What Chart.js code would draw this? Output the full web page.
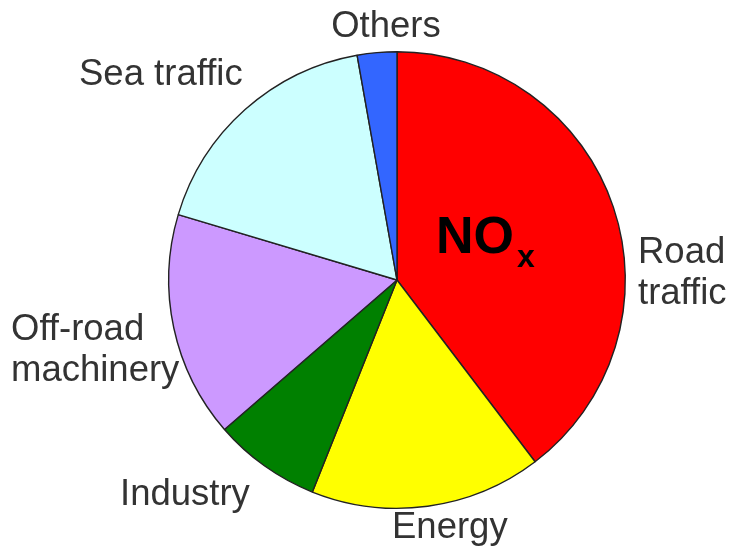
<!DOCTYPE html>
<html lang="en">
<head>
    <meta charset="UTF-8">
    <title>NOx emission sources</title>
    <script src="https://cdn.jsdelivr.net/npm/chart.js"></script>
    <style>
        body {
            margin: 0;
            background: #fff;
        }
        .chart-container {
            width: 733px;
            height: 552px;
        }
    </style>
</head>
<body>
    <div class="chart-container">
        <canvas id="noxPie"></canvas>
    </div>

    <script>
        // shares of NOx emissions (%), clockwise from 12 o'clock
        const sources = ['Road traffic', 'Energy', 'Industry', 'Off-road machinery', 'Sea traffic', 'Others'];
        const shares = [39.7, 16.4, 7.6, 16.0, 17.6, 2.8];
        const sliceColors = ['#ff0000', '#ffff00', '#008000', '#cc99ff', '#ccffff', '#3366ff'];

        // label text lines and where they sit, as offsets from the pie centre
        const labelLines = [
            ['Road', 'traffic'],
            ['Energy'],
            ['Industry'],
            ['Off-road', 'machinery'],
            ['Sea traffic'],
            ['Others']
        ];
        const labelSpots = [
            { dx: 241, dy: -17, align: 'left' },
            { dx: -5, dy: 258, align: 'left' },
            { dx: -277, dy: 225, align: 'left' },
            { dx: -386, dy: 60, align: 'left' },
            { dx: -318, dy: -195, align: 'left' },
            { dx: -11, dy: -243, align: 'center' }
        ];

        const sliceLabels = {
            id: 'sliceLabels',
            afterDraw(chart) {
                const c = chart.ctx;
                const arc = chart.getDatasetMeta(0).data[0];
                const cx = arc.x, cy = arc.y;
                c.save();
                c.fillStyle = '#333';
                c.font = '36.5px "Liberation Sans", Arial, sans-serif';
                c.textBaseline = 'alphabetic';
                labelLines.forEach((lines, i) => {
                    const spot = labelSpots[i];
                    c.textAlign = spot.align;
                    lines.forEach((t, j) => {
                        c.fillText(t, cx + spot.dx, cy + spot.dy + j * 41);
                    });
                });
                // NOx title inside the red slice
                c.fillStyle = '#000';
                c.textAlign = 'left';
                c.font = 'bold 52px "Liberation Sans", Arial, sans-serif';
                c.fillText('NO', cx + 39, cy - 27);
                const w = c.measureText('NO').width;
                c.font = 'bold 32px "Liberation Sans", Arial, sans-serif';
                c.fillText('x', cx + 39 + w + 3, cy - 13);
                c.restore();
            }
        };

        const ctx = document.getElementById('noxPie').getContext('2d');
        new Chart(ctx, {
            type: 'pie',
            data: {
                labels: sources,
                datasets: [{
                    data: shares,
                    backgroundColor: sliceColors,
                    borderColor: '#222',
                    borderWidth: 1.4
                }]
            },
            options: {
                responsive: true,
                maintainAspectRatio: false,
                animation: false,
                layout: {
                    padding: { top: 51, bottom: 43, left: 100, right: 39 }
                },
                plugins: {
                    legend: { display: false },
                    tooltip: { enabled: false }
                }
            },
            plugins: [sliceLabels]
        });
    </script>
</body>
</html>
